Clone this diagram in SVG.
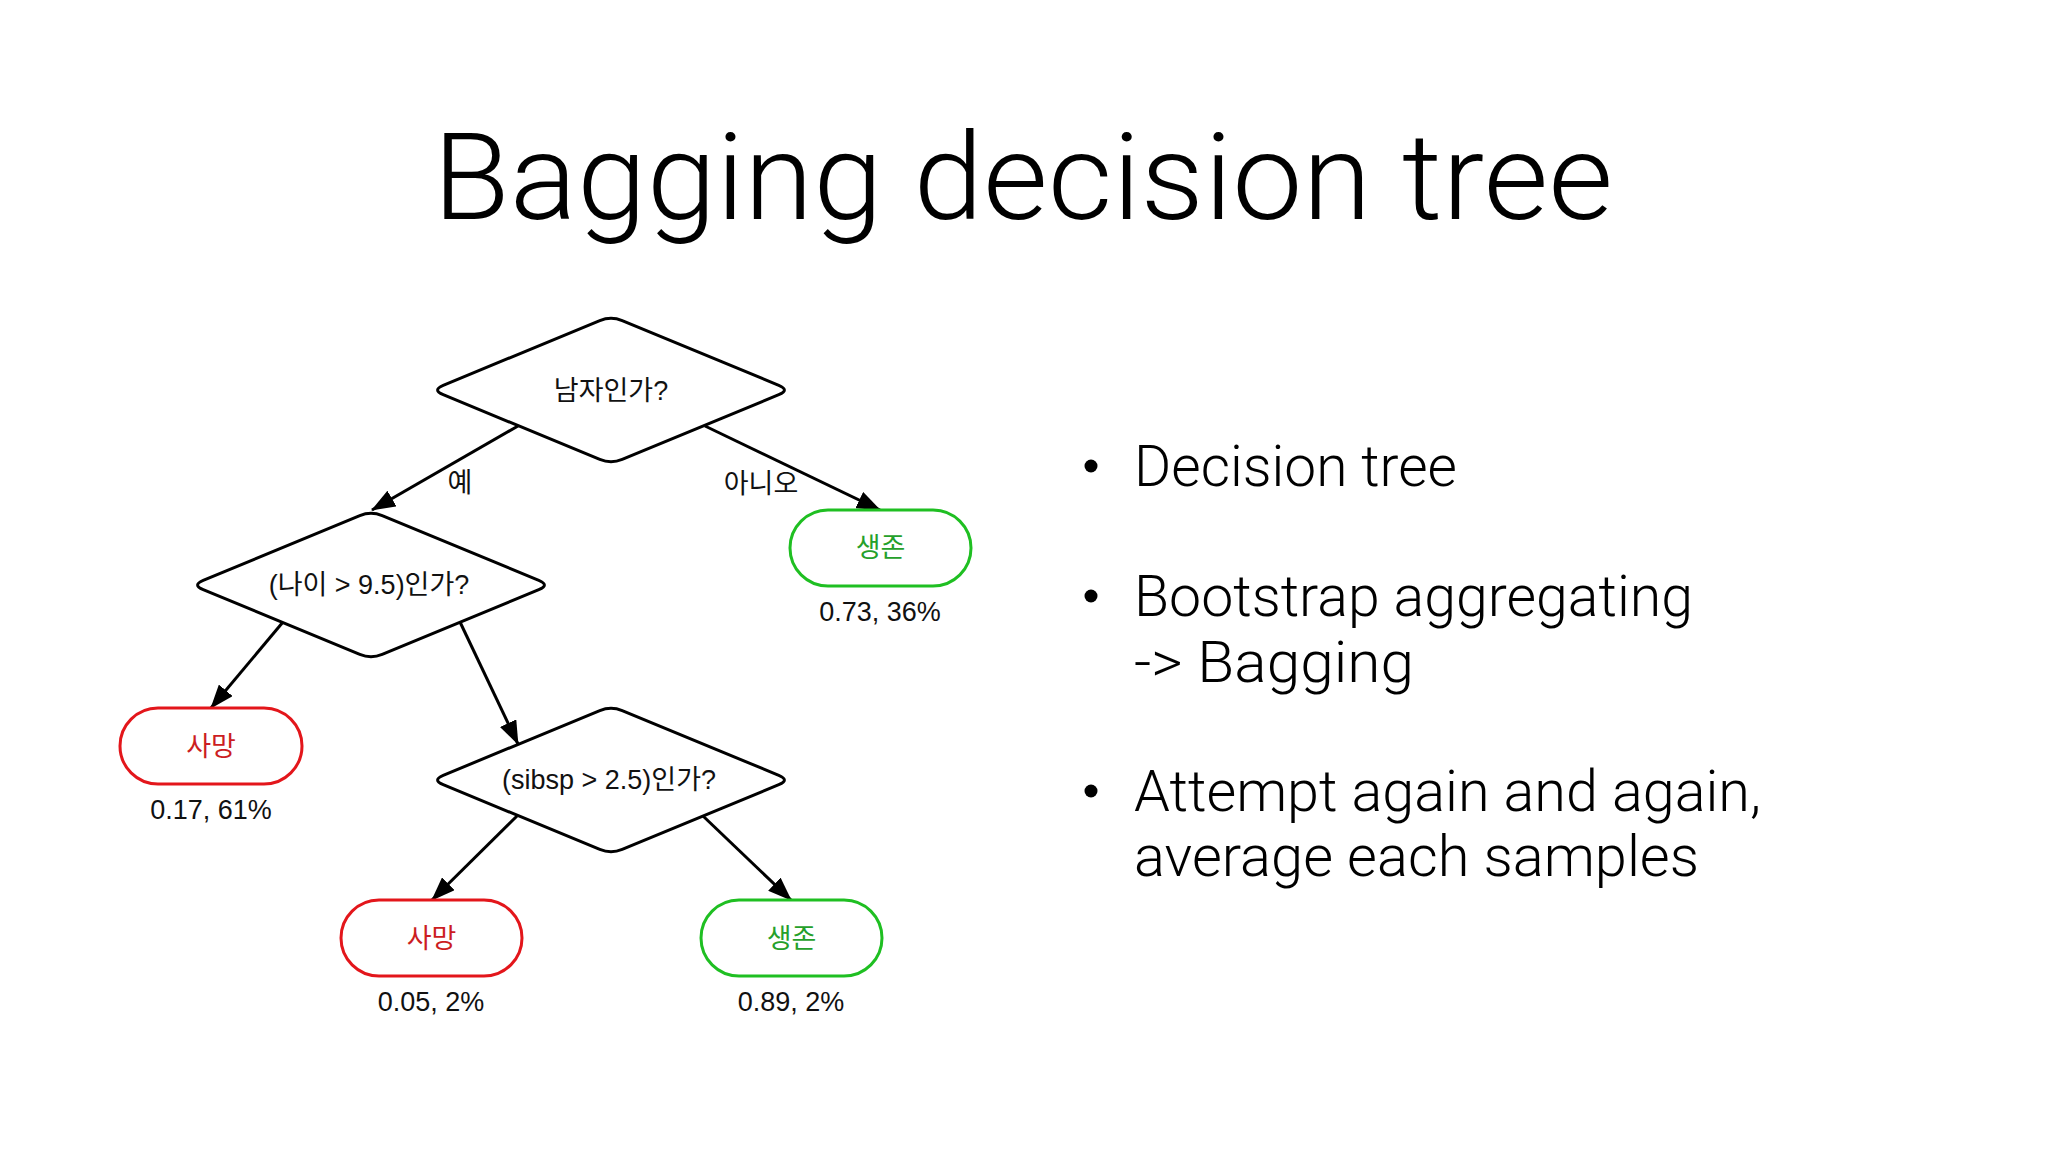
<svg xmlns="http://www.w3.org/2000/svg" xmlns:xlink="http://www.w3.org/1999/xlink" width="2048" height="1152" viewBox="0 0 2048 1152">
<style>
.title{font-family:Roboto,"Liberation Sans",sans-serif;font-weight:300;font-size:120px;fill:#000}
.bul{font-family:Roboto,"Liberation Sans",sans-serif;font-weight:300;font-size:57px;fill:#000}
.q{font-family:"Liberation Sans","Noto Sans CJK KR",sans-serif;font-size:27px;fill:#111;text-anchor:middle}
.num{font-family:"Liberation Sans","Noto Sans CJK KR",sans-serif;font-size:27px;fill:#111;text-anchor:middle}
.dia{fill:#fff;stroke:#000;stroke-width:3}
.edge{stroke:#000;stroke-width:3;fill:none;marker-end:url(#arr)}
.dead{fill:#fff;stroke:#e3161b;stroke-width:3}
.live{fill:#fff;stroke:#1fbf22;stroke-width:3}
.deadt{fill:#cc1d22}
.livet{fill:#25a02a}
</style>
<defs>
<marker id="arr" markerUnits="userSpaceOnUse" markerWidth="24" markerHeight="18" viewBox="0 0 24 18" refX="23" refY="9" orient="auto">
<path d="M0,0 L24,9 L0,18 Z" fill="#000"/>
</marker>
<path id="dshape" d="M -11.2,-69.3 Q 0,-74 11.2,-69.3 L 167.8,-4.7 Q 179,0 167.8,4.7 L 11.2,69.3 Q 0,74 -11.2,69.3 L -167.8,4.7 Q -179,0 -167.8,-4.7 Z"/>
</defs>
<rect width="2048" height="1152" fill="#fff"/>
<text class="title" x="433" y="219" textLength="1180" lengthAdjust="spacingAndGlyphs">Bagging decision tree</text>

<g id="connectors">
<line class="edge" x1="518" y1="426" x2="372" y2="510"/>
<line class="edge" x1="705" y1="426" x2="880" y2="510"/>
<line class="edge" x1="283" y1="622" x2="211" y2="708"/>
<line class="edge" x1="460" y1="622" x2="518" y2="744"/>
<line class="edge" x1="517" y1="816" x2="432" y2="900"/>
<line class="edge" x1="703" y1="816" x2="791" y2="900"/>
<text class="q" x="460" y="492">예</text>
<text class="q" x="761" y="493">아니오</text>
</g>

<g id="q-male">
<use xlink:href="#dshape" class="dia" transform="translate(611,390)"/>
<text class="q" x="611" y="400">남자인가?</text>
</g>
<g id="q-age">
<use xlink:href="#dshape" class="dia" transform="translate(371,585)"/>
<text class="q" x="369" y="594">(나이 &gt; 9.5)인가?</text>
</g>
<g id="q-sibsp">
<use xlink:href="#dshape" class="dia" transform="translate(611,780)"/>
<text class="q" x="609" y="789">(sibsp &gt; 2.5)인가?</text>
</g>

<g id="leaf-survive-1">
<rect class="live" x="790" y="510" width="181" height="76" rx="38"/>
<text class="q livet" x="880.5" y="557">생존</text>
<text class="num" x="880" y="621">0.73, 36%</text>
</g>
<g id="leaf-dead-1">
<rect class="dead" x="120" y="708" width="182" height="76" rx="38"/>
<text class="q deadt" x="211" y="756">사망</text>
<text class="num" x="211" y="819">0.17, 61%</text>
</g>
<g id="leaf-dead-2">
<rect class="dead" x="341" y="900" width="181" height="76" rx="38"/>
<text class="q deadt" x="431.5" y="948">사망</text>
<text class="num" x="431" y="1011">0.05, 2%</text>
</g>
<g id="leaf-survive-2">
<rect class="live" x="701" y="900" width="181" height="76" rx="38"/>
<text class="q livet" x="791.5" y="948">생존</text>
<text class="num" x="791" y="1011">0.89, 2%</text>
</g>

<g id="bullets">
<circle cx="1091" cy="466" r="6.5" fill="#000"/>
<text class="bul" x="1134" y="486" textLength="323" lengthAdjust="spacingAndGlyphs">Decision tree</text>
<circle cx="1091" cy="596" r="6.5" fill="#000"/>
<text class="bul" x="1134" y="616" textLength="559" lengthAdjust="spacingAndGlyphs">Bootstrap aggregating</text>
<text class="bul" x="1134" y="682" textLength="280" lengthAdjust="spacingAndGlyphs">-&gt; Bagging</text>
<circle cx="1091" cy="791" r="6.5" fill="#000"/>
<text class="bul" x="1134" y="811" textLength="627" lengthAdjust="spacingAndGlyphs">Attempt again and again,</text>
<text class="bul" x="1134" y="876" textLength="565" lengthAdjust="spacingAndGlyphs">average each samples</text>
</g>
</svg>
